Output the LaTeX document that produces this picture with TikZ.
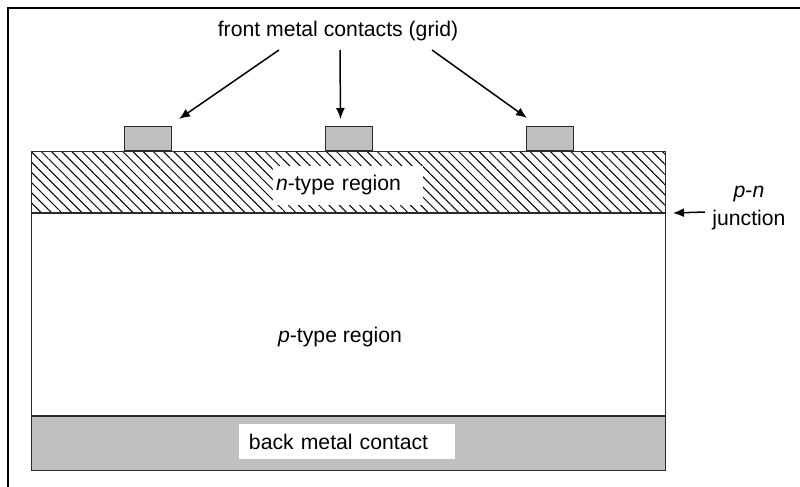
\documentclass[tikz,border=0pt]{standalone}
\usepackage{fontspec}
\setmainfont{Liberation Sans}
\definecolor{metalgray}{HTML}{C0C0C0}
\definecolor{edgegray}{HTML}{2A2A2A}
\usetikzlibrary{positioning,arrows.meta,patterns.meta,calc}

\begin{document}
\begin{tikzpicture}[x=0.5pt, y=-0.5pt,
      layer/.style={rectangle, draw=edgegray, line width=0.6pt, minimum width=317pt,
                    inner sep=0pt, anchor=north west},
      contact/.style={rectangle, draw=edgegray, fill=metalgray, line width=0.5pt,
                      minimum width=23.5pt, minimum height=12pt, inner sep=0pt, anchor=south west},
      tag/.style={font=\fontsize{10.6}{12.7}\selectfont, inner sep=0pt},
      pointer/.style={-{Latex[length=5.5pt, width=4.5pt]}, line width=0.75pt},
    ]
    \useasboundingbox (0,0) rectangle (800,487);
    \draw[line width=0.6pt] (8,487) -- (8,8) -- (800,8);

    % cell layers
    \node[layer, minimum height=30.5pt,
          pattern={Lines[angle=-45, distance=3.6pt, line width=0.5pt]}] (nlayer) at (31,151) {};
    \node[layer, minimum height=101pt, below=0pt of nlayer] (player) {};
    \node[layer, minimum height=27pt, fill=metalgray, below=0pt of player] (backlayer) {};

    % front grid fingers
    \node[contact] (c1) at (124,151) {};
    \node[contact] (c2) at (325,151) {};
    \node[contact] (c3) at (526,151) {};

    % labels
    \node[tag] (title) at (338,31) {front metal contacts (grid)};
    \node[tag, fill=white, text width=72pt, align=left, inner xsep=1.5pt, inner ysep=5pt]
          (nlabel) at (348,185.5) {\textit{n}-type region};
    \node[tag] (plabel) at (340,337) {\textit{p}-type region};
    \node[tag, fill=white, text width=98pt, align=left, inner xsep=5pt, inner ysep=5pt]
          (backlabel) at (347,441.5) {back metal contact};
    \node[tag, align=center] (junction) at (749,208) {\textit{p}-\textit{n}\\[1.5pt]junction};

    \coordinate (g1) at (279,50);
    \coordinate (g2) at (340,50);
    \coordinate (g3) at (432,50);
    \coordinate (j0) at (705,212);

    \draw[pointer] (g1) -- ($(c1.north east)+(7,-7)$);
    \draw[pointer] (g2) -- ($(c2.north)+(-8.5,-7)$);
    \draw[pointer] (g3) -- ($(c3.north west)+(1,-8)$);
    \draw[pointer] (j0) -- ($(nlayer.south east)+(7,0)$);
  \end{tikzpicture}
\end{document}
